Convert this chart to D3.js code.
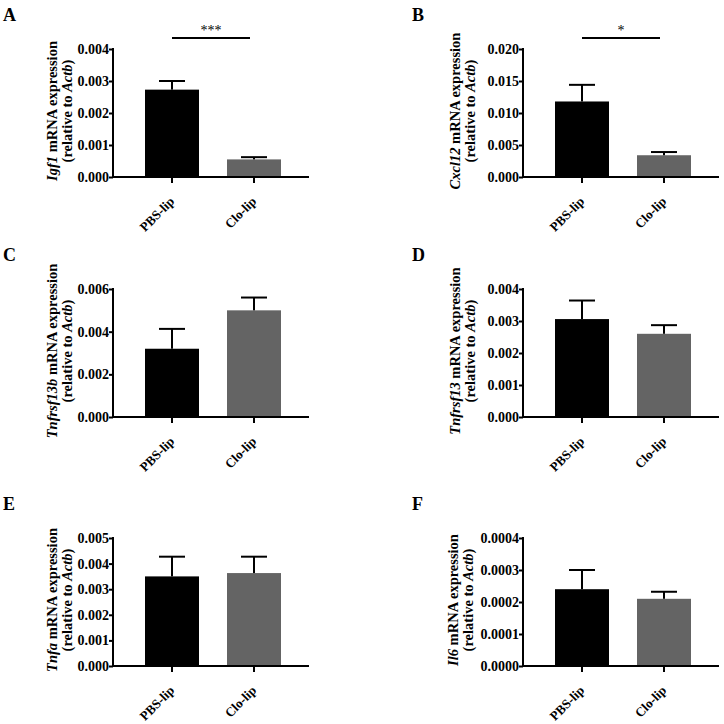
<!DOCTYPE html>
<html>
<head>
<meta charset="utf-8">
<script src="https://cdn.jsdelivr.net/npm/d3@7"></script>
<style>
  html, body { margin: 0; padding: 0; background: #fff; }
  svg text { font-family: "Liberation Serif", "Times New Roman", serif; font-weight: bold; }
</style>
</head>
<body>
<svg id="chart" width="724" height="724"></svg>
<script>
// ---------------- data ----------------
const categories = ["PBS-lip", "Clo-lip"];
const panelLetters = ["A", "B", "C", "D", "E", "F"];
const genes = ["Igf1", "Cxcl12", "Tnfrsf13b", "Tnfrsf13", "Tnfa", "Il6"];
const means = [
  [0.00273, 0.00055],
  [0.0118, 0.0034],
  [0.0032, 0.0050],
  [0.00306, 0.0026],
  [0.0035, 0.00363],
  [0.00024, 0.00021]
];
const sems = [
  [0.00027, 0.00007],
  [0.0026, 0.0005],
  [0.00093, 0.0006],
  [0.00058, 0.00027],
  [0.00077, 0.00064],
  [0.00006, 0.000022]
];
const yMax = [0.004, 0.020, 0.006, 0.004, 0.005, 0.0004];
const yTickValues = [
  [0, 0.001, 0.002, 0.003, 0.004],
  [0, 0.005, 0.010, 0.015, 0.020],
  [0, 0.002, 0.004, 0.006],
  [0, 0.001, 0.002, 0.003, 0.004],
  [0, 0.001, 0.002, 0.003, 0.004, 0.005],
  [0, 0.0001, 0.0002, 0.0003, 0.0004]
];
const yTickDecimals = [3, 3, 3, 3, 3, 4];
const significance = ["***", "*", null, null, null, null];
const barColors = ["#000000", "#646464"];

// ---------------- layout ----------------
const panelOrigins = [
  { x: 113, y: 49 }, { x: 523, y: 49 },
  { x: 113, y: 289 }, { x: 523, y: 289 },
  { x: 113, y: 538 }, { x: 523, y: 538 }
];
const letterPos = [
  { x: 3, y: 21 }, { x: 412, y: 21 },
  { x: 3, y: 261 }, { x: 412, y: 261 },
  { x: 3, y: 510 }, { x: 412, y: 510 }
];
const labelOffset = [-41, -48, -41, -48, -41, -50];
const plotH = 128, axisW = 196;

const svg = d3.select("#chart");

panelLetters.forEach((letter, i) => {
  svg.append("text")
    .attr("x", letterPos[i].x).attr("y", letterPos[i].y)
    .attr("font-size", 18)
    .text(letter);

  const g = svg.append("g").attr("transform", `translate(${panelOrigins[i].x},${panelOrigins[i].y})`);

  const x = d3.scaleBand().domain(categories).range([32, 168]).paddingInner(0.3415).paddingOuter(0);
  const y = d3.scaleLinear().domain([0, yMax[i]]).range([plotH, 0]);

  // bars
  g.selectAll("rect.bar").data(categories).enter().append("rect")
    .attr("class", "bar")
    .attr("x", c => x(c))
    .attr("y", (c, j) => y(means[i][j]))
    .attr("width", x.bandwidth())
    .attr("height", (c, j) => plotH - y(means[i][j]))
    .attr("fill", (c, j) => barColors[j]);

  // error bars (upper only)
  const capW = 26;
  categories.forEach((c, j) => {
    const cx = x(c) + x.bandwidth() / 2;
    const yt = y(means[i][j] + sems[i][j]);
    g.append("line").attr("x1", cx).attr("x2", cx)
      .attr("y1", y(means[i][j])).attr("y2", yt)
      .attr("stroke", "#000").attr("stroke-width", 2);
    g.append("line").attr("x1", cx - capW / 2).attr("x2", cx + capW / 2)
      .attr("y1", yt).attr("y2", yt)
      .attr("stroke", "#000").attr("stroke-width", 2);
  });

  // y axis
  const fmt = d3.format("." + yTickDecimals[i] + "f");
  const yAxis = d3.axisLeft(y).tickValues(yTickValues[i]).tickFormat(fmt).tickSizeOuter(0).tickSize(4).tickPadding(0);
  const ya = g.append("g").call(yAxis);
  ya.select(".domain").attr("stroke-width", 2).attr("d", `M0,${plotH + 1}V-1`);
  ya.selectAll(".tick line").attr("stroke-width", 2);
  ya.selectAll(".tick text").attr("font-size", 14).attr("fill", "#000")
    .style("font-family", '"Liberation Serif", serif').style("font-weight", "bold");

  // x axis
  const xa = g.append("g").attr("transform", `translate(0,${plotH})`);
  xa.append("line").attr("x1", -1).attr("x2", axisW).attr("y1", 0).attr("y2", 0)
    .attr("stroke", "#000").attr("stroke-width", 2);
  const xAxis = d3.axisBottom(x).tickSize(6).tickSizeOuter(0);
  const xg = xa.append("g").call(xAxis);
  xg.select(".domain").remove();
  xg.selectAll(".tick line").attr("stroke-width", 2);
  xg.selectAll(".tick text")
    .attr("font-size", 13).attr("fill", "#000")
    .style("font-family", '"Liberation Serif", serif').style("font-weight", "bold")
    .attr("text-anchor", "end")
    .attr("x", 0).attr("y", 0).attr("dy", "0.35em")
    .attr("transform", "translate(0,22) rotate(-45)");

  // y axis label
  const lx = labelOffset[i];
  const ly = plotH / 2 - 2;
  const lab = g.append("g").attr("transform", `translate(${lx},${ly}) rotate(-90)`);
  const t1 = lab.append("text").attr("text-anchor", "middle").attr("y", -15).attr("font-size", 14.5);
  t1.append("tspan").attr("font-style", "italic").text(genes[i]);
  t1.append("tspan").text(" mRNA expression");
  const t2 = lab.append("text").attr("text-anchor", "middle").attr("y", 0).attr("font-size", 14.5);
  t2.append("tspan").text("(relative to ");
  t2.append("tspan").attr("font-style", "italic").text("Actb");
  t2.append("tspan").text(")");

  // significance bracket
  if (significance[i]) {
    const x1 = x(categories[0]) + x.bandwidth() / 2;
    const x2 = x(categories[1]) + x.bandwidth() / 2 - 4;
    g.append("line").attr("x1", x1).attr("x2", x2).attr("y1", -11).attr("y2", -11)
      .attr("stroke", "#000").attr("stroke-width", 2);
    g.append("text").attr("x", (x1 + x2) / 2).attr("y", -14)
      .attr("text-anchor", "middle").attr("font-size", 14).attr("fill", "#000").style("font-weight", "normal")
      .text(significance[i]);
  }
});
</script>
</body>
</html>
